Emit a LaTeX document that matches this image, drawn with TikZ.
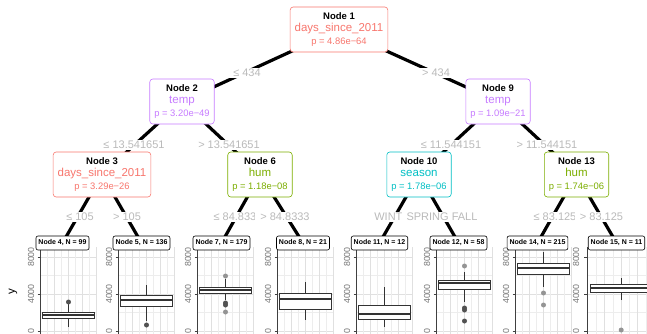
\documentclass[tikz,border=0pt]{standalone}
\usepackage{fontspec}
\setmainfont{Liberation Sans}
\usetikzlibrary{backgrounds}

\definecolor{splitred}{HTML}{F8766D}
\definecolor{splitgreen}{HTML}{7CAE00}
\definecolor{splitcyan}{HTML}{00BFC4}
\definecolor{splitpurple}{HTML}{C77CFF}

% title, variable and p-value of an inner node
\newcommand{\splittext}[3]{%
  {\color{black}\bfseries\fontsize{9.5}{12.5}\selectfont #1}\\
  {\fontsize{11.5}{12.5}\selectfont #2}\\
  {\fontsize{9.4}{12.5}\selectfont p = #3}}

\tikzset{
  split/.style={
    draw=#1,
    text=#1,
    fill=white,
    rounded corners=3pt,
    line width=0.6pt,
    align=center,
    minimum height=45pt,
    inner xsep=4.5pt,
    inner ysep=2pt,
    font=\fontsize{9.5}{12.5}\selectfont
  },
  leaf/.style={
    draw,
    fill=white,
    rounded corners=2pt,
    line width=0.6pt,
    inner xsep=2.5pt,
    inner ysep=0pt,
    minimum height=14pt,
    font=\fontsize{7}{8}\selectfont\bfseries
  },
  branch/.style={line width=3.2pt},
  cut/.style={fill=white,text=black!27,inner xsep=5pt,inner ysep=1pt,
    font=\fontsize{11}{12}\selectfont},
  gridmajor/.style={black!12,line width=0.55pt},
  gridminor/.style={black!7,line width=0.3pt},
  axisline/.style={black!75,line width=0.6pt},
  ticklabel/.style={rotate=90,text=black!55,inner sep=0pt,
    font=\fontsize{8.8}{10}\selectfont},
  whisker/.style={black!80,line width=0.6pt},
  median/.style={black!80,line width=1.7pt},
  outlier/.style={fill=black!#1}
}

\begin{document}
\begin{tikzpicture}[x=1pt,y=-1pt]
  \useasboundingbox (0,0) rectangle (647,334);
  \clip (0,0) rectangle (647,334);

  % Boxplot panels of the terminal nodes: axis x, x scale, whiskers, quartiles, median.
  \foreach \ax/\sx/\lo/\qa/\md/\qb/\hi in {
      40/1/0.43/1.41/1.73/2.05/2.92,
      118/1/1.08/2.70/3.35/3.89/4.97,
      197/1/3.35/4.11/4.43/4.76/5.62,
      277/1/1.19/2.38/3.46/4.11/5.30,
      356/1/0.43/1.30/1.84/2.81/4.76,
      436/1/3.14/4.54/5.19/5.51/6.38,
      515/1/4.76/6.16/6.81/7.35/8.54,
      587/1.2/3.35/4.22/4.65/5.08/5.73}{
    \begin{scope}[shift={(\ax,331)},x=\sx pt,y=9.25pt]
      \foreach \v in {2,6}
        \draw[gridminor] (0,\v) -- (57,\v);
      \foreach \v in {0,4,8}
        \draw[gridmajor] (0,\v) -- (57,\v);
      \foreach \h in {7.5,21.5,35.5,49.5}
        \draw[gridminor] (\h,-0.5) -- (\h,9.08);
      \foreach \h in {14.7,28.5,42.3,56.1}
        \draw[gridmajor] (\h,-0.5) -- (\h,9.08);
      \draw[axisline] (0,-0.5) -- (0,9.08);
      \foreach \v/\lab in {0/0,4/4000,8/8000}{
        \draw[axisline] (-2.5,\v) -- (0,\v);
        \node[ticklabel] at (-9,\v) {\lab};
      }
      \draw[whisker] (28.5,\lo) -- (28.5,\qa) (28.5,\qb) -- (28.5,\hi);
      \draw[whisker,fill=white] (2.6,\qa) rectangle (54.4,\qb);
      \draw[median] (2.6,\md) -- (54.4,\md);
    \end{scope}
  }

  % outlying observations
  \fill[outlier=68] (68.5,302) circle (2.5);
  \fill[outlier=68] (146.5,325) circle (2.5);
  \fill[outlier=42] (225.5,276) circle (2.5);
  \fill[outlier=68] (225.5,303) circle (2.5);
  \fill[outlier=68] (225.5,305) circle (2.5);
  \fill[outlier=42] (225.5,312) circle (2.5);
  \fill[outlier=42] (464.5,266) circle (2.5);
  \fill[outlier=68] (464.5,308) circle (2.5);
  \fill[outlier=68] (464.5,310) circle (2.5);
  \fill[outlier=68] (464.5,321) circle (2.5);
  \fill[outlier=42] (543.5,293) circle (2.5);
  \fill[outlier=42] (543.5,305) circle (2.5);
  \fill[outlier=42] (621.2,330) circle (2.5);

  \node[rotate=90,font=\fontsize{11.5}{12}\selectfont] (ytitle) at (13,292) {y};

  % Split conditions on the branches.
  \node[cut] (c2) at (247,73) {≤ 434};
  \node[cut] (c9) at (436,73) {> 434};
  \node[cut] (c3) at (134,145) {≤ 13.541651};
  \node[cut] (c6) at (229,145) {> 13.541651};
  \node[cut] (c10) at (451,145) {≤ 11.544151};
  \node[cut] (c13) at (547,145) {> 11.544151};
  \node[cut] (c4) at (80,217) {≤ 105};
  \node[cut] (c5) at (127,217) {> 105};
  \node[cut] (c7) at (238,217) {≤ 84.8333};
  \node[cut] (c8) at (285,217) {> 84.8333};
  \node[cut] (c11) at (396,217) {WINTER};
  \node[cut] (c12) at (442,217) {SPRING FALL};
  \node[cut] (c14) at (555,217) {≤ 83.125};
  \node[cut] (c15) at (601.5,217) {> 83.125};

  % Inner nodes.
  \node[split=splitred] (n1) at (339,29.5)
    {\splittext{Node 1}{days\_since\_2011}{4.86e−64}};
  \node[split=splitpurple] (n2) at (182,101.5)
    {\splittext{Node 2}{temp}{3.20e−49}};
  \node[split=splitpurple] (n9) at (498,101.5)
    {\splittext{Node 9}{temp}{1.09e−21}};
  \node[split=splitred] (n3) at (102,174.5)
    {\splittext{Node 3}{days\_since\_2011}{3.29e−26}};
  \node[split=splitgreen] (n6) at (260,174.5)
    {\splittext{Node 6}{hum}{1.18e−08}};
  \node[split=splitcyan] (n10) at (419,174.5)
    {\splittext{Node 10}{season}{1.78e−06}};
  \node[split=splitgreen] (n13) at (576.5,174.5)
    {\splittext{Node 13}{hum}{1.74e−06}};

  % Terminal nodes.
  \node[leaf] (t4) at (62.5,243) {Node 4, N = 99};
  \node[leaf] (t5) at (141.5,243) {Node 5, N = 136};
  \node[leaf] (t7) at (221.5,243) {Node 7, N = 179};
  \node[leaf] (t8) at (303,243) {Node 8, N = 21};
  \node[leaf] (t11) at (379.5,243) {Node 11, N = 12};
  \node[leaf] (t12) at (458.5,243) {Node 12, N = 58};
  \node[leaf] (t14) at (537.5,243) {Node 14, N = 215};
  \node[leaf] (t15) at (616.5,243) {Node 15, N = 11};

  % Branches, behind everything else.
  \begin{pgfonlayer}{background}
    \draw[branch] (n1.center) -- (n2.center);
    \draw[branch] (n1.center) -- (n9.center);
    \draw[branch] (n2.center) -- (n3.center);
    \draw[branch] (n2.center) -- (n6.center);
    \draw[branch] (n9.center) -- (n10.center);
    \draw[branch] (n9.center) -- (n13.center);
    \draw[branch] (n3.center) -- (t4.center);
    \draw[branch] (n3.center) -- (t5.center);
    \draw[branch] (n6.center) -- (t7.center);
    \draw[branch] (n6.center) -- (t8.center);
    \draw[branch] (n10.center) -- (t11.center);
    \draw[branch] (n10.center) -- (t12.center);
    \draw[branch] (n13.center) -- (t14.center);
    \draw[branch] (n13.center) -- (t15.center);
  \end{pgfonlayer}
\end{tikzpicture}
\end{document}
